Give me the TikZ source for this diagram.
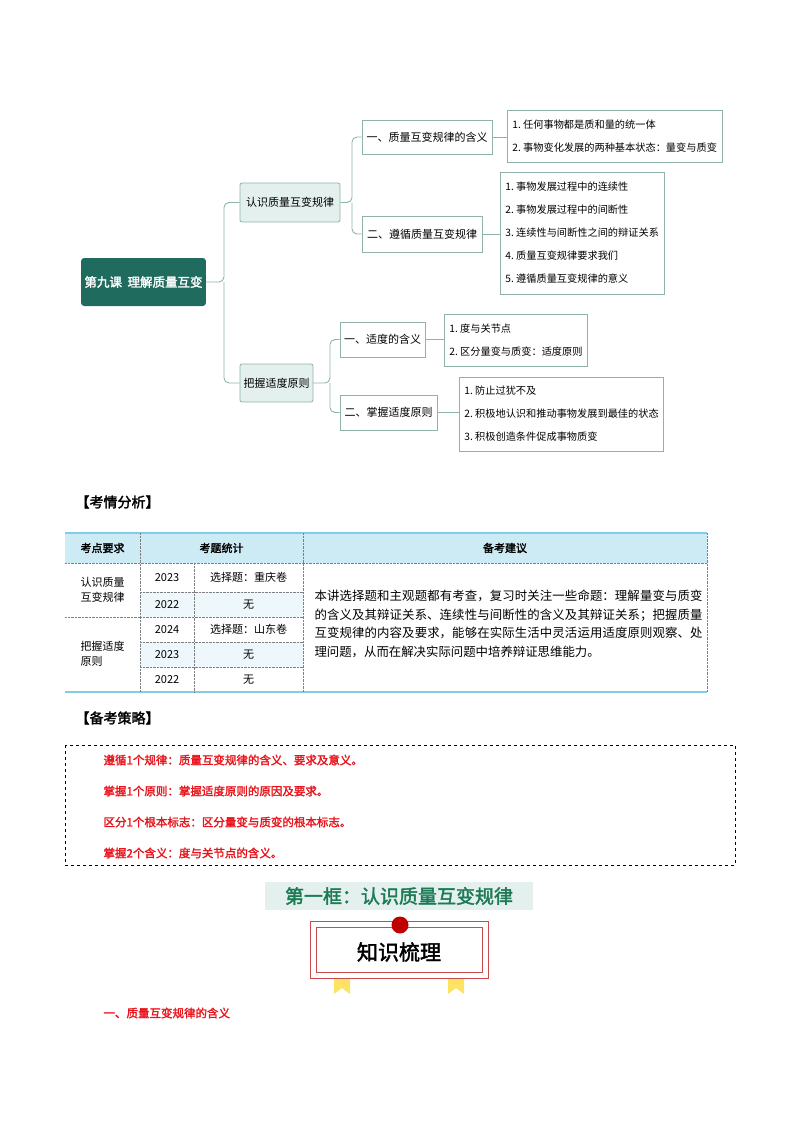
\documentclass[tikz,border=0pt]{standalone}
\usepackage{fontspec}
\setmainfont{Noto Sans CJK SC}
\newfontfamily\hei{Noto Sans CJK SC}[FakeBold=2]
\XeTeXlinebreaklocale "zh"
\XeTeXlinebreakskip=0pt plus 1pt
\usetikzlibrary{positioning}
\definecolor{teal1}{HTML}{1F6B5E}
\definecolor{lt}{HTML}{E3F0EE}
\definecolor{bd}{HTML}{8FB3AA}
\definecolor{tblue}{HTML}{7FCDE6}
\definecolor{hblue}{HTML}{CDEBF5}
\definecolor{cblue}{HTML}{EEF8FC}
\definecolor{rd}{HTML}{E8141B}
\tikzset{
 mm/.style={draw=bd,line width=0.8pt,rounded corners=2pt,fill=lt,font=\fontsize{11}{13}\selectfont,inner sep=0pt},
 sub/.style={draw=bd,line width=0.8pt,fill=white,font=\fontsize{11}{13}\selectfont,inner sep=0pt},
 leaf/.style={draw=bd,line width=0.8pt,fill=white,font=\fontsize{10.2}{23}\selectfont,inner xsep=5pt,inner ysep=0pt,align=left},
 conn/.style={draw=bd,line width=0.9pt,rounded corners=5pt},
 cell/.style={font=\fontsize{11}{15}\selectfont},
 redt/.style={text=rd,font=\hei\fontsize{11.5}{14}\selectfont,anchor=west},
}
\begin{document}
\begin{tikzpicture}[x=1pt,y=-1pt]
\useasboundingbox (0,0) rectangle (800,1132);
% mind map
\node[fill=teal1,rounded corners=3pt,minimum width=123pt,minimum height=48pt,text=white,font=\hei\fontsize{12.5}{14}\selectfont] (root) at (143.5,282) {第九课\ \ 理解质量互变};
\node[mm,minimum width=100pt,minimum height=39pt] (a) at (290,202.5) {认识质量互变规律};
\node[mm,minimum width=73pt,minimum height=38pt] (b) at (276.5,383) {把握适度原则};
\node[sub,minimum width=130pt,minimum height=34pt] (a1) at (427,137) {一、质量互变规律的含义};
\node[sub,minimum width=120pt,minimum height=36pt] (a2) at (422,234) {二、遵循质量互变规律};
\node[sub,minimum width=85pt,minimum height=35pt] (b1) at (382.5,339.5) {一、适度的含义};
\node[sub,minimum width=97pt,minimum height=35pt] (b2) at (388.5,412.5) {二、掌握适度原则};
\node[leaf,minimum height=52pt,anchor=west] (l1) at (507,136) {1.\ 任何事物都是质和量的统一体\\2.\ 事物变化发展的两种基本状态：量变与质变};
\node[leaf,minimum height=122pt,anchor=west] (l2) at (500,233) {1.\ 事物发展过程中的连续性\\2.\ 事物发展过程中的间断性\\3.\ 连续性与间断性之间的辩证关系\\4.\ 质量互变规律要求我们\\5.\ 遵循质量互变规律的意义};
\node[leaf,minimum height=52pt,anchor=west] (l3) at (444,340) {1.\ 度与关节点\\2.\ 区分量变与质变：适度原则};
\node[leaf,minimum height=74pt,anchor=west] (l4) at (459,414) {1.\ 防止过犹不及\\2.\ 积极地认识和推动事物发展到最佳的状态\\3.\ 积极创造条件促成事物质变};
\draw[conn] (root.east) -- (224,282) |- (a.west);
\draw[conn] (224,282) |- (b.west);
\draw[conn] (a.east) -- (352,202.5) |- (a1.west);
\draw[conn] (352,202.5) |- (a2.west);
\draw[conn] (b.east) -- (330,383) |- (b1.west);
\draw[conn] (330,383) |- (b2.west);
\draw[conn] (a1.east) -- (l1.west|-a1.east);
\draw[conn] (a2.east) -- (l2.west|-a2.east);
\draw[conn] (b1.east) -- (l3.west|-b1.east);
\draw[conn] (b2.east) -- (l4.west|-b2.east);
% 考情分析
\node[anchor=west,font=\hei\fontsize{14}{16}\selectfont] (h1) at (72,502) {【考情分析】};
\fill[hblue] (65,533) rectangle (707,563);
\fill[cblue] (140,592) rectangle (303,617);
\fill[cblue] (140,642) rectangle (303,667);
\draw[tblue,line width=1.2pt] (65,533) -- (707,533) (65,692) -- (707,692);
\draw[gray,densely dotted] (65,563) -- (707,563) (140,533) -- (140,692) (303,533) -- (303,692) (194,563) -- (194,692)
 (140,592) -- (303,592) (140,617) -- (303,617) (65,617) -- (140,617) (140,642) -- (303,642) (140,667) -- (303,667) (707,533) -- (707,692);
\node[font=\hei\fontsize{11}{13}\selectfont] (t1) at (102.5,548) {考点要求};
\node[font=\hei\fontsize{11}{13}\selectfont] (t2) at (221.5,548) {考题统计};
\node[font=\hei\fontsize{11}{13}\selectfont] (t3) at (505,548) {备考建议};
\node[cell,align=left] (c1) at (102.5,590) {认识质量\\互变规律};
\node[cell,align=left] (c2) at (102.5,654) {把握适度\\原则};
\node[cell] (y1) at (167,577.5) {2023};
\node[cell] (y2) at (167,604.5) {2022};
\node[cell] (y3) at (167,629.5) {2024};
\node[cell] (y4) at (167,654.5) {2023};
\node[cell] (y5) at (167,679.5) {2022};
\node[cell] (s1) at (248.5,577.5) {选择题：重庆卷};
\node[cell] (s2) at (248.5,604.5) {无};
\node[cell] (s3) at (248.5,629.5) {选择题：山东卷};
\node[cell] (s4) at (248.5,654.5) {无};
\node[cell] (s5) at (248.5,679.5) {无};
\node[cell,text width=388pt,align=justify,anchor=west,font=\fontsize{12.4}{18.5}\selectfont] (adv) at (311,624) {本讲选择题和主观题都有考查，复习时关注一些命题：理解量变与质变的含义及其辩证关系、连续性与间断性的含义及其辩证关系；把握质量互变规律的内容及要求，能够在实际生活中灵活运用适度原则观察、处理问题，从而在解决实际问题中培养辩证思维能力。};
% 备考策略
\node[anchor=west,font=\hei\fontsize{14}{16}\selectfont] (h2) at (72,718) {【备考策略】};
\draw[dashed,line width=0.8pt] (65,745) rectangle (735,865);
\node[redt] (r1) at (100,760) {遵循1个规律：质量互变规律的含义、要求及意义。};
\node[redt] (r2) at (100,791) {掌握1个原则：掌握适度原则的原因及要求。};
\node[redt] (r3) at (100,822) {区分1个根本标志：区分量变与质变的根本标志。};
\node[redt] (r4) at (100,853) {掌握2个含义：度与关节点的含义。};
% 第一框
\node[fill=lt,minimum width=268pt,minimum height=28pt,text=teal1!90!green,font=\hei\fontsize{19}{21}\selectfont,inner sep=0pt] (ttl) at (399,896) {第一框：认识质量互变规律};
\fill[yellow!70!orange!60] (334,974) -- (350,974) -- (350,994) -- (342,988) -- (334,994) -- cycle;
\fill[yellow!70!orange!60] (448,974) -- (464,974) -- (464,994) -- (456,988) -- (448,994) -- cycle;
\draw[red!70!black!70,line width=0.8pt,fill=white] (310,921) rectangle (488,978);
\draw[red!70!black!70,line width=0.8pt] (316,927) rectangle (482,972);
\fill[red!75!black] (400,925) circle (8.5);
\node[font=\hei\fontsize{21}{23}\selectfont] (zs) at (399,952) {知识梳理};
\node[redt] (r5) at (100,1013) {一、质量互变规律的含义};
\end{tikzpicture}
\end{document}
